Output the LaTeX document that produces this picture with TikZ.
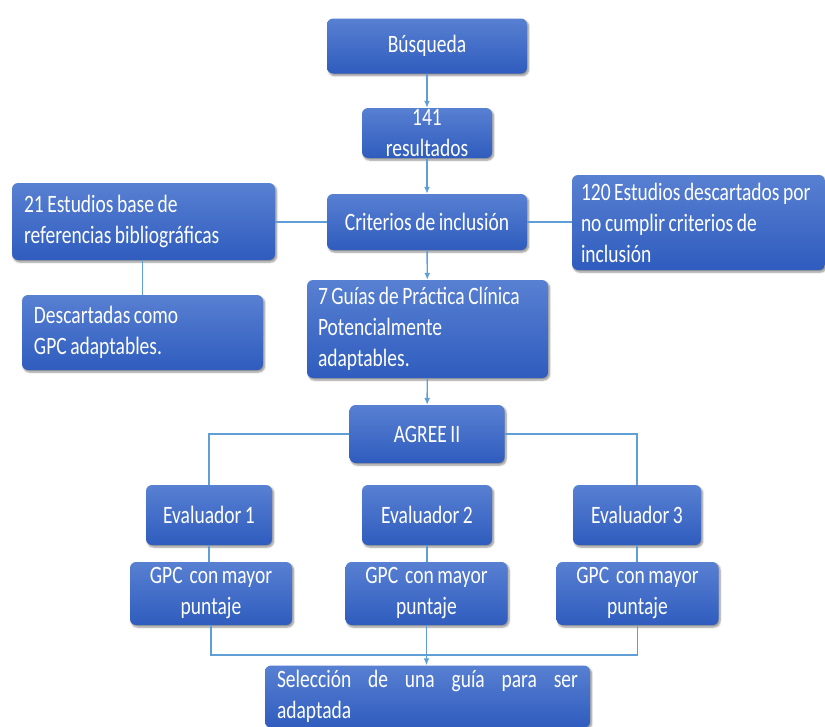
\documentclass[tikz,border=0pt]{standalone}
\usepackage{fontspec}
\setmainfont{Carlito}[FakeStretch=0.78, WordSpace=0.8]
\usetikzlibrary{arrows.meta,shadows.blur}

\definecolor{boxtop}{RGB}{88,128,210}
\definecolor{boxbot}{RGB}{47,92,190}
\definecolor{linkblue}{RGB}{96,158,214}

\tikzset{
  flowbox/.style={rounded corners=6pt, top color=boxtop, bottom color=boxbot, draw=none,
    text=white, font=\fontsize{25}{31}\selectfont, inner sep=0pt,
    blur shadow={shadow xshift=1.5pt, shadow yshift=-2pt, shadow blur steps=6, shadow opacity=45}},
  linkline/.style={draw=linkblue, line width=1.4pt},
  linkarrow/.style={linkline, -{Latex[length=7pt,width=6pt]}}
}

\begin{document}
\begin{tikzpicture}[x=1pt,y=1pt,yscale=-1]
\useasboundingbox (0,0) rectangle (825,726);

%Boxes, top column
\node [flowbox, minimum width=200, minimum height=55] (busq) at (427,46) {Búsqueda};
\node [flowbox, minimum width=130, minimum height=50, align=center] (res) at (427,133) {141\\resultados};
\node [flowbox, minimum width=200, minimum height=56] (crit) at (427,222) {Criterios de inclusión};
\node [flowbox, minimum width=241, minimum height=98, text width=219, align=flush left] (guias) at (427.5,329)
  {7 Guías de Práctica Clínica\\Potencialmente\\adaptables.};
\node [flowbox, minimum width=155, minimum height=58] (agree) at (427,434) {AGREE II};

%Boxes, sides
\node [flowbox, minimum width=263, minimum height=77, text width=239, align=flush left] (base) at (143.5,221.5)
  {21 Estudios base de\\referencias bibliográficas};
\node [flowbox, minimum width=253, minimum height=95, text width=235, align=flush left] (descar) at (698.5,222.5)
  {120 Estudios descartados por\\no cumplir criterios de\\inclusión};
\node [flowbox, minimum width=241, minimum height=75, text width=217, align=flush left] (gpcno) at (142.5,332.5)
  {Descartadas como\\GPC adaptables.};

%Evaluators and scores
\node [flowbox, minimum width=126, minimum height=60] (eva) at (209,515) {Evaluador 1};
\node [flowbox, minimum width=130, minimum height=60] (evb) at (427,515) {Evaluador 2};
\node [flowbox, minimum width=128, minimum height=60] (evc) at (637,515) {Evaluador 3};
\node [flowbox, minimum width=162, minimum height=63, align=center] (gpca) at (211,593.5) {GPC~ con mayor\\puntaje};
\node [flowbox, minimum width=162, minimum height=63, align=center] (gpcb) at (426.5,593.5) {GPC~ con mayor\\puntaje};
\node [flowbox, minimum width=162, minimum height=63, align=center] (gpcc) at (637.5,593.5) {GPC~ con mayor\\puntaje};
\node [flowbox, minimum width=325, minimum height=62, text width=301, align=flush left] (selec) at (427.5,696.5)
  {\makebox[301pt][s]{Selección de una guía para ser}\\adaptada};

%Connectors
\draw [linkarrow] (busq) -- (res);
\draw [linkarrow] (res) -- (crit);
\draw [linkarrow] (crit) -- (guias);
\draw [linkarrow] (guias) -- (agree);
\draw [linkline] (crit.west) -- (base.east |- crit.west);
\draw [linkline] (crit.east) -- (descar.west |- crit.east);
\draw [linkline] (gpcno.north) -- (gpcno.north |- base.south);
\draw [linkline] (agree.west) -| (eva.north);
\draw [linkline] (agree.east) -| (evc.north);
\draw [linkline] (eva.south) -- (eva.south |- gpca.north);
\draw [linkline] (evb.south) -- (evb.south |- gpcb.north);
\draw [linkline] (evc.south) -- (evc.south |- gpcc.north);
\coordinate (join) at (427,655);
\draw [linkline] (gpca.south) |- (join) -| (gpcc.south);
\draw [linkarrow] (gpcb.south) -- (gpcb.south |- selec.north);

\end{tikzpicture}
\end{document}
